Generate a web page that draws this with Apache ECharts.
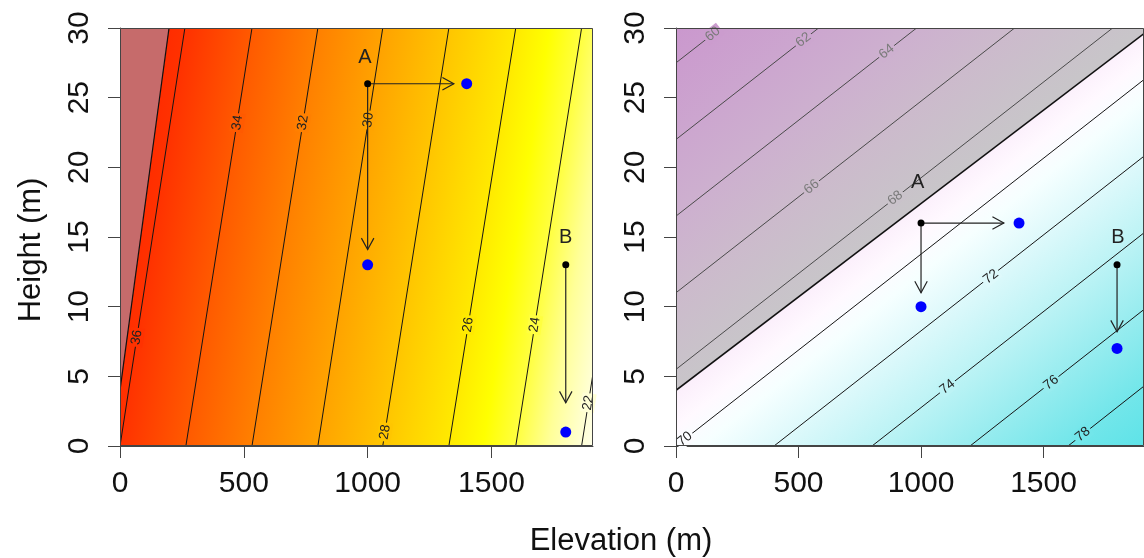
<!DOCTYPE html>
<html>
<head>
<meta charset="utf-8">
<script src="https://cdn.jsdelivr.net/npm/echarts@6/dist/echarts.min.js"></script>
<style>
  html, body { margin: 0; padding: 0; background: #ffffff; }
  #chart { width: 1144px; height: 558px; }
</style>
</head>
<body>
<div id="chart"></div>
<script>
// ---------- axes ----------
const xTicks = [0, 500, 1000, 1500];
const yTicks = [0, 5, 10, 15, 20, 25, 30];
const X_MAX = 1910;
const Y_MAX = 30;

// ---------- left panel: temperature contours ----------
const tLevels = [36, 34, 32, 30, 28, 26, 24, 22];
const tStartX = [0, 266, 533, 799, 1061, 1328, 1598, 1864];
const tStartY = [0, 0, 0, 0, 0, 0, 0, 0];
const tEndX   = [262, 533, 799, 1061, 1328, 1598, 1864, 1910];
const tEndY   = [30, 30, 30, 30, 30, 30, 30, 5.2];
const tLabelX = [68, 474, 739, 1003, 1070, 1406, 1675, 1891];
const tLabelY = [7.8, 23.2, 23.2, 23.4, 1.0, 8.7, 8.7, 3.1];
// shaded corner
const tShadeX = [0, 198, 0];
const tShadeY = [4, 30, 30];
// points, shifts and arrows
const tPointName = ['A', 'B'];
const tPointX = [1000, 1800];
const tPointY = [26, 13];
const tNameX = [989, 1800];
const tNameY = [27.9, 15.0];
const tShiftX = [1400, 1000, 1800];
const tShiftY = [26, 13, 1];
const tArrowFromX = [1000, 1000, 1800];
const tArrowFromY = [26, 26, 13];
const tArrowToX = [1348, 1000, 1800];
const tArrowToY = [26, 14.1, 3.1];

// ---------- right panel: humidity contours ----------
const rLevels = [60, 62, 64, 66, 68, 70, 72, 74, 76, 78];
const rStartX = [0, 0, 0, 0, 0, 0, 400, 800, 1200, 1600];
const rStartY = [27.5, 22, 16.5, 11, 5.5, 0, 0, 0, 0, 0];
const rEndX   = [182, 582, 982, 1382, 1782, 1910, 1910, 1910, 1910, 1910];
const rEndY   = [30, 30, 30, 30, 30, 26.3, 20.8, 15.3, 9.8, 4.3];
const rLabelX = [150, 520, 860, 554, 895, 36, 1285, 1108, 1531, 1660];
const rLabelY = [29.56, 29.15, 28.3, 18.6, 17.8, 0.5, 12.15, 4.24, 4.55, 0.83];
// shaded band above the bold line
const rShadeX = [0, 1910, 1910, 0];
const rShadeY = [4, 29.6, 30, 30];
const rPointName = ['A', 'B'];
const rPointX = [1000, 1800];
const rPointY = [16, 13];
const rNameX = [986, 1804];
const rNameY = [18.9, 15.0];
const rShiftX = [1400, 1000, 1800];
const rShiftY = [16, 10, 7];
const rArrowFromX = [1000, 1000, 1800];
const rArrowFromY = [16, 16, 13];
const rArrowToX = [1338, 1000, 1800];
const rArrowToY = [16, 11.0, 8.2];

// ---------- colour ramps (level -> colour) ----------
const heatStops = [
  [21.5, '#fffff0'], [22, '#ffffd6'], [23, '#ffff98'], [24, '#ffff40'], [25, '#ffff00'],
  [26, '#ffea00'], [28, '#ffc600'], [30, '#ffa300'], [32, '#ff8000'], [34, '#ff5a00'],
  [36, '#ff3200'], [38, '#ff1c00']
];
const cmStops = [
  [68.5, '#fbeefb'], [69.5, '#fff9ff'], [70.5, '#f6ffff'], [72, '#def9fb'],
  [74, '#bcf3f5'], [76, '#97ecef'], [78, '#72e6ea'], [80, '#58e2e7']
];
const shadeStops = [
  [58, '#c993cd'], [60, '#cb9cce'], [62, '#cca6cf'], [64, '#cdb0cf'],
  [66, '#ccbacc'], [68.6, '#c8c5c9']
];
const FONT = '"Liberation Sans", Arial, Helvetica, sans-serif';

function hexToRgb(h) {
  return [parseInt(h.slice(1, 3), 16), parseInt(h.slice(3, 5), 16), parseInt(h.slice(5, 7), 16)];
}
function colorAt(stops, L) {
  if (L <= stops[0][0]) return stops[0][1];
  for (let i = 1; i < stops.length; i++) {
    if (L <= stops[i][0]) {
      const t = (L - stops[i - 1][0]) / (stops[i][0] - stops[i - 1][0]);
      const a = hexToRgb(stops[i - 1][1]), b = hexToRgb(stops[i][1]);
      const c = a.map((v, k) => Math.round(v + (b[k] - v) * t));
      return 'rgb(' + c.join(',') + ')';
    }
  }
  return stops[stops.length - 1][1];
}

// Linear gradient running across the contour lines, in pixel space.
function fieldGradient(api, c, stops) {
  let best = 0, bestLen = -1;
  for (let i = 0; i < c.levels.length; i++) {
    const a = api.coord([c.sx[i], c.sy[i]]), b = api.coord([c.ex[i], c.ey[i]]);
    const len = Math.hypot(b[0] - a[0], b[1] - a[1]);
    if (len > bestLen) { bestLen = len; best = i; }
  }
  const a0 = api.coord([c.sx[best], c.sy[best]]), a1 = api.coord([c.ex[best], c.ey[best]]);
  const ux = (a1[0] - a0[0]) / bestLen, uy = (a1[1] - a0[1]) / bestLen;
  const nx = -uy, ny = ux;
  const n = c.levels.length - 1;
  const p = api.coord([c.sx[0], c.sy[0]]), q = api.coord([c.sx[n], c.sy[n]]);
  const dp = nx * p[0] + ny * p[1], dq = nx * q[0] + ny * q[1];
  const Lp = c.levels[0], Lq = c.levels[n];
  const at = L => {
    const d = (L - Lp) * (dq - dp) / (Lq - Lp);
    return [p[0] + nx * d, p[1] + ny * d];
  };
  const Lmin = stops[0][0], Lmax = stops[stops.length - 1][0];
  const s = at(Lmin), e = at(Lmax);
  return {
    type: 'linear', x: s[0], y: s[1], x2: e[0], y2: e[1], global: true,
    colorStops: stops.map(st => ({ offset: (st[0] - Lmin) / (Lmax - Lmin), color: st[1] }))
  };
}

const tContours = { levels: tLevels, sx: tStartX, sy: tStartY, ex: tEndX, ey: tEndY, lx: tLabelX, ly: tLabelY };
const rContours = { levels: rLevels, sx: rStartX, sy: rStartY, ex: rEndX, ey: rEndY, lx: rLabelX, ly: rLabelY };

function panelSeries(g, c, opts) {
  const list = [];
  // smooth colour field
  list.push({
    type: 'custom', xAxisIndex: g, yAxisIndex: g, z: 1, silent: true, clip: true,
    data: [[0, 0]],
    renderItem: (params, api) => {
      const cs = params.coordSys;
      return { type: 'rect', shape: { x: cs.x, y: cs.y, width: cs.width, height: cs.height },
               style: { fill: fieldGradient(api, c, opts.stops) } };
    }
  });
  // shaded region and its bold edge
  list.push({
    type: 'custom', xAxisIndex: g, yAxisIndex: g, z: 2, silent: true, clip: true,
    data: [[0, 0]],
    renderItem: (params, api) => {
      const pts = opts.shadeX.map((x, i) => api.coord([x, opts.shadeY[i]]));
      const fill = opts.shadeStops ? fieldGradient(api, c, opts.shadeStops) : opts.shadeColor;
      return { type: 'group', children: [
        { type: 'polygon', shape: { points: pts }, style: { fill: fill } },
        { type: 'line', shape: { x1: pts[0][0], y1: pts[0][1], x2: pts[1][0], y2: pts[1][1] },
          style: { stroke: '#111', lineWidth: opts.edgeWidth } }
      ] };
    }
  });
  // contour lines
  list.push({
    type: 'custom', xAxisIndex: g, yAxisIndex: g, z: 3, silent: true, clip: true,
    data: c.levels.map((L, i) => [c.sx[i], c.sy[i], c.ex[i], c.ey[i], L]),
    renderItem: (params, api) => {
      const a = api.coord([api.value(0), api.value(1)]);
      const b = api.coord([api.value(2), api.value(3)]);
      const inShade = opts.isShaded(api.value(4));
      return { type: 'line', shape: { x1: a[0], y1: a[1], x2: b[0], y2: b[1] },
               style: { stroke: inShade ? '#4a4a4a' : '#151515', lineWidth: 1 } };
    }
  });
  // contour labels, set along each line
  list.push({
    type: 'custom', xAxisIndex: g, yAxisIndex: g, z: 4, silent: true, clip: false,
    data: c.levels.map((L, i) => [c.lx[i], c.ly[i], L]),
    renderItem: (params, api) => {
      const i = params.dataIndex;
      const L = c.levels[i];
      const p = api.coord([c.lx[i], c.ly[i]]);
      const a = api.coord([c.sx[i], c.sy[i]]), b = api.coord([c.ex[i], c.ey[i]]);
      let ang = Math.atan2(-(b[1] - a[1]), b[0] - a[0]);
      if (ang > Math.PI / 2) ang -= Math.PI;
      if (ang < -Math.PI / 2) ang += Math.PI;
      const inShade = opts.isShaded(L);
      const bg = inShade ? colorAt(opts.shadeStops, L) : colorAt(opts.stops, L);
      return { type: 'text', x: p[0], y: p[1], rotation: ang,
               style: { text: String(L), fontSize: 13.5, fontFamily: FONT,
                        fill: inShade ? '#7a7a7a' : '#222', align: 'center', verticalAlign: 'middle',
                        backgroundColor: bg, padding: [0, 2] } };
    }
  });
  // arrows from each point to its shifted positions
  list.push({
    type: 'custom', xAxisIndex: g, yAxisIndex: g, z: 5, silent: true, clip: false,
    data: opts.fromX.map((x, i) => [x, opts.fromY[i], opts.toX[i], opts.toY[i]]),
    renderItem: (params, api) => {
      const s = api.coord([api.value(0), api.value(1)]);
      const e = api.coord([api.value(2), api.value(3)]);
      const len = Math.hypot(e[0] - s[0], e[1] - s[1]);
      const ux = (e[0] - s[0]) / len, uy = (e[1] - s[1]) / len;
      const h = 13, ca = Math.cos(0.5), sa = Math.sin(0.5);
      const l1 = [e[0] - h * (ux * ca - uy * sa), e[1] - h * (uy * ca + ux * sa)];
      const l2 = [e[0] - h * (ux * ca + uy * sa), e[1] - h * (uy * ca - ux * sa)];
      return { type: 'group', children: [
        { type: 'line', shape: { x1: s[0], y1: s[1], x2: e[0], y2: e[1] },
          style: { stroke: '#222', lineWidth: 1.2 } },
        { type: 'polyline', shape: { points: [l1, e, l2] },
          style: { stroke: '#222', lineWidth: 1.2, fill: null } }
      ] };
    }
  });
  // point names
  list.push({
    type: 'custom', xAxisIndex: g, yAxisIndex: g, z: 6, silent: true, clip: false,
    data: opts.nameX.map((x, i) => [x, opts.nameY[i]]),
    renderItem: (params, api) => {
      const p = api.coord([api.value(0), api.value(1)]);
      return { type: 'text', x: p[0], y: p[1],
               style: { text: opts.names[params.dataIndex], fontSize: 20, fontFamily: FONT,
                        fill: '#222', align: 'center', verticalAlign: 'middle' } };
    }
  });
  // starting points and shifted points
  list.push({
    type: 'scatter', xAxisIndex: g, yAxisIndex: g, z: 7, silent: true,
    symbolSize: 7, itemStyle: { color: '#000000', opacity: 1 },
    data: opts.pointX.map((x, i) => [x, opts.pointY[i]])
  });
  list.push({
    type: 'scatter', xAxisIndex: g, yAxisIndex: g, z: 7, silent: true,
    symbolSize: 11, itemStyle: { color: '#0000ff', opacity: 1 },
    data: opts.shiftX.map((x, i) => [x, opts.shiftY[i]])
  });
  // plot frame
  list.push({
    type: 'custom', xAxisIndex: g, yAxisIndex: g, z: 9, silent: true,
    data: [[0, 0]],
    renderItem: (params) => {
      const cs = params.coordSys;
      return { type: 'rect', shape: { x: cs.x + 0.5, y: cs.y + 0.5, width: cs.width - 1, height: cs.height - 1 },
               style: { fill: null, stroke: '#444', lineWidth: 1 } };
    }
  });
  return list;
}

const series = [].concat(
  panelSeries(0, tContours, {
    stops: heatStops, shadeColor: '#c66b6b', shadeX: tShadeX, shadeY: tShadeY, edgeWidth: 1.2,
    isShaded: () => false,
    fromX: tArrowFromX, fromY: tArrowFromY, toX: tArrowToX, toY: tArrowToY,
    names: tPointName, nameX: tNameX, nameY: tNameY,
    pointX: tPointX, pointY: tPointY, shiftX: tShiftX, shiftY: tShiftY
  }),
  panelSeries(1, rContours, {
    stops: cmStops, shadeStops: shadeStops, shadeX: rShadeX, shadeY: rShadeY, edgeWidth: 1.6,
    isShaded: L => L <= 68,
    fromX: rArrowFromX, fromY: rArrowFromY, toX: rArrowToX, toY: rArrowToY,
    names: rPointName, nameX: rNameX, nameY: rNameY,
    pointX: rPointX, pointY: rPointY, shiftX: rShiftX, shiftY: rShiftY
  })
);

const axisText = { fontSize: 30, fontFamily: FONT, color: '#111', formatter: v => String(v) };

const option = {
  animation: false,
  backgroundColor: '#ffffff',
  grid: [
    { left: 120, top: 28, width: 473, height: 418, containLabel: false },
    { left: 676, top: 28, width: 473, height: 418, containLabel: false }
  ],
  xAxis: [0, 1].map(g => ({
    type: 'value', gridIndex: g, min: 0, max: X_MAX,
    axisLine: { show: true, lineStyle: { color: '#444', width: 1 } },
    axisTick: { show: true, length: 12, customValues: xTicks, lineStyle: { color: '#444' } },
    axisLabel: Object.assign({ customValues: xTicks, margin: 23 }, axisText),
    splitLine: { show: false }
  })),
  yAxis: [0, 1].map(g => ({
    type: 'value', gridIndex: g, min: 0, max: Y_MAX, interval: 5,
    axisLine: { show: true, lineStyle: { color: '#444', width: 1 } },
    axisTick: { show: true, length: 12, customValues: yTicks, lineStyle: { color: '#444' } },
    axisLabel: Object.assign({ customValues: yTicks, rotate: 90, margin: 25 }, axisText),
    splitLine: { show: false }
  })),
  graphic: [
    { type: 'text', x: 31, y: 250, rotation: Math.PI / 2,
      style: { text: 'Height (m)', fontSize: 31, fontFamily: FONT, fill: '#111', align: 'center', verticalAlign: 'middle' } },
    { type: 'text', x: 621, y: 541,
      style: { text: 'Elevation (m)', fontSize: 31, fontFamily: FONT, fill: '#111', align: 'center', verticalAlign: 'middle' } }
  ],
  series: series
};

const chart = echarts.init(document.getElementById('chart'), null, { renderer: 'canvas' });
chart.setOption(option);
</script>
</body>
</html>
